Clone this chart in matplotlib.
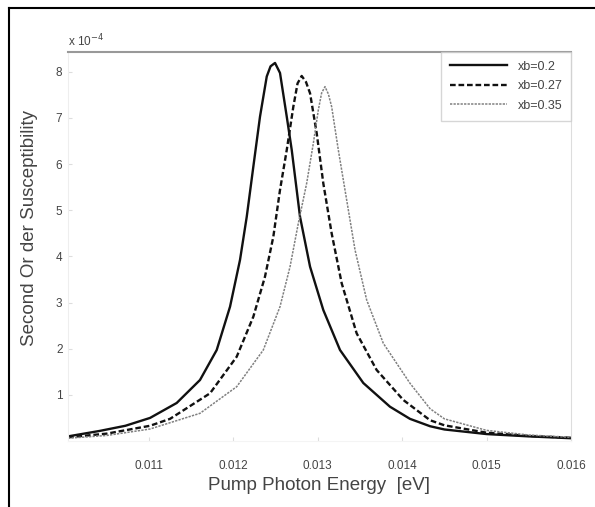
import matplotlib
matplotlib.use("Agg")
import matplotlib.pyplot as plt
from matplotlib.lines import Line2D

plt.rcParams['font.family'] = ['Liberation Sans', 'DejaVu Sans']

# Pump photon energy (eV) and second-order susceptibility (units of 1e-4)
x_02 = [0.01004, 0.01042, 0.01072, 0.011012, 0.011328, 0.011604, 0.011802, 0.011960,
        0.012078, 0.012158, 0.012236, 0.012315, 0.012395, 0.012440, 0.012493, 0.012552,
        0.012632, 0.012691, 0.012789, 0.012908, 0.013065, 0.013263, 0.013539, 0.013855,
        0.014092, 0.01433, 0.0145, 0.0150, 0.0155, 0.0160]
y_02 = [0.10, 0.22, 0.33, 0.50, 0.824, 1.322, 1.972, 2.911,
        3.923, 4.861, 5.945, 7.029, 7.900, 8.120, 8.193, 7.976,
        7.029, 6.307, 4.861, 3.778, 2.839, 1.972, 1.257, 0.743,
        0.480, 0.32, 0.25, 0.15, 0.10, 0.06]

x_027 = [0.01004, 0.0105, 0.011012, 0.011249, 0.011723, 0.012039, 0.012236, 0.012374,
         0.012473, 0.012552, 0.012632, 0.012710, 0.012760, 0.012809, 0.012860, 0.012908,
         0.012987, 0.013065, 0.013164, 0.013283, 0.013460, 0.013697, 0.014013, 0.01433,
         0.0145, 0.0150, 0.0155, 0.0160]
y_027 = [0.08, 0.16, 0.33, 0.48, 1.034, 1.827, 2.694, 3.561,
         4.428, 5.440, 6.307, 7.245, 7.750, 7.911, 7.780, 7.536,
         6.669, 5.585, 4.501, 3.418, 2.334, 1.539, 0.889, 0.45,
         0.34, 0.18, 0.11, 0.07]

x_035 = [0.01004, 0.0105, 0.011012, 0.011604, 0.012039, 0.012354, 0.012552, 0.012671,
         0.012769, 0.012868, 0.012947, 0.013006, 0.013045, 0.013085, 0.013125, 0.013164,
         0.013243, 0.013342, 0.013441, 0.013579, 0.013776, 0.014092, 0.01433, 0.0145,
         0.0150, 0.0155, 0.0160]
y_035 = [0.06, 0.12, 0.26, 0.600, 1.177, 1.972, 2.911, 3.778,
         4.718, 5.585, 6.452, 7.174, 7.540, 7.679, 7.520, 7.245,
         6.307, 5.223, 4.140, 3.056, 2.117, 1.251, 0.70, 0.48,
         0.23, 0.13, 0.08]

labels = ['xb=0.2', 'xb=0.27', 'xb=0.35']
xticks = [0.011, 0.012, 0.013, 0.014, 0.015, 0.016]
xticklabels = ['0.011', '0.012', '0.013', '0.014', '0.015', '0.016']
yticks = [1, 2, 3, 4, 5, 6, 7, 8]

fig = plt.figure(figsize=(5.95, 5.07), dpi=100)
ax = fig.add_axes([68/595, 1-441/507, (571-68)/595, (441-52)/507])

ax.plot(x_02, y_02, color='#111111', lw=1.7, ls='-', label=labels[0],
        solid_joinstyle='round')
ax.plot(x_027, y_027, color='#111111', lw=1.7, ls=(0, (2.4, 1.2)), label=labels[1],
        dash_joinstyle='round')
ax.plot(x_035, y_035, color='#808080', lw=1.1, ls=(0, (1.5, 0.8)), label=labels[2],
        dash_joinstyle='round')

ax.set_xlim(0.01004, 0.0160)
ax.set_ylim(0, 8.43)
ax.set_xticks(xticks)
ax.set_xticklabels(xticklabels)
ax.set_yticks(yticks)
ax.tick_params(axis='both', labelsize=8.5, labelcolor='#444444', color='#dddddd',
               length=3, direction='in')
ax.tick_params(axis='x', pad=14)
ax.tick_params(axis='y', pad=4)

ax.spines['top'].set_color('#999999')
ax.spines['top'].set_linewidth(1.5)
ax.spines['right'].set_color('#dddddd')
ax.spines['left'].set_color('#eeeeee')
ax.spines['bottom'].set_color('#f4f4f4')

ax.set_xlabel('Pump Photon Energy  [eV]', fontsize=13.5, color='#444444')
ax.xaxis.set_label_coords(0.5, -0.092)
ax.set_ylabel('Second Or der Susceptibility', fontsize=13.5, color='#444444')
ax.yaxis.set_label_coords(-0.060, 0.548)
ax.text(0.0, 1.006, r'x 10$^{-4}$', transform=ax.transAxes, fontsize=8.5,
        color='#444444', ha='left', va='bottom')

leg = ax.legend(loc='upper right', fontsize=9, frameon=True, fancybox=False,
                borderaxespad=0.0, handlelength=4.6, labelspacing=0.6,
                borderpad=0.7, handletextpad=0.8)
leg.get_frame().set_edgecolor('#cccccc')
leg.get_frame().set_linewidth(1.0)
for t in leg.get_texts():
    t.set_color('#444444')

# outer frame (top and left edges)
fig.add_artist(Line2D([9/595, 1.0], [1-8/507, 1-8/507], color='black', lw=1.5,
                      transform=fig.transFigure))
fig.add_artist(Line2D([9/595, 9/595], [0.0, 1-8/507], color='black', lw=1.5,
                      transform=fig.transFigure))

fig.savefig('out.png', dpi=100, facecolor='white')
